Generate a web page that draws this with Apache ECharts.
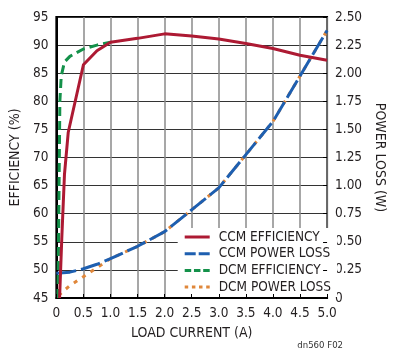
<!DOCTYPE html>
<html><head><meta charset="utf-8">
<script src="https://cdn.jsdelivr.net/npm/echarts@6/dist/echarts.min.js"></script>
<style>html,body{margin:0;padding:0;background:#fff}#c{width:395px;height:352px}</style>
</head><body><div id="c"></div>
<script>
// ---- data ----
const xTickLabels = ['0','0.5','1.0','1.5','2.0','2.5','3.0','3.5','4.0','4.5','5.0'];
const rightTickLabels = ['0','0.25','0.50','0.75','1.00','1.25','1.50','1.75','2.00','2.25','2.50'];
const seriesNames = ['CCM EFFICIENCY','CCM POWER LOSS','DCM EFFICIENCY','DCM POWER LOSS'];

const ccmEffX = [0.06,0.1,0.15,0.22,0.5,0.75,1.0,1.5,2.0,2.5,3.0,3.5,4.0,4.5,5.0];
const ccmEff  = [45,55.5,67,74.5,86.5,89,90.5,91.2,92,91.6,91.1,90.3,89.4,88.2,87.3];

const dcmEffX = [0.03,0.05,0.065,0.09,0.15,0.25,0.5,0.75,1.0];
const dcmEff  = [45,65,80,84.5,87,88,89.3,90,90.5];

const ccmLossX = [0,0.25,0.5,0.75,1.0,1.5,2.0,3.0,4.0,5.0];
const ccmLoss  = [0.22,0.23,0.26,0.3,0.35,0.46,0.59,0.98,1.57,2.38];

const dcmLossX = [0.04,0.15,0.25,0.5,0.75,1.0,1.5,2.0,3.0,4.0,5.0];
const dcmLoss  = [0.02,0.07,0.11,0.19,0.27,0.35,0.46,0.59,0.98,1.57,2.38];

const pairs = (xs, ys) => xs.map((x, i) => [x, ys[i]]);

const FONT = "'DejaVu Sans Condensed',sans-serif";
const TXT = '#231f20';
const RED = '#ad1a33', BLUE = '#1e5fb0', GREEN = '#14914a', ORANGE = '#e0873a';

// legend sample glyphs (25 x 3 boxes)
const ICONS = [
  'path://M0,0H25V3H0Z',
  'path://M0,0H11V3H0Z M14,0H25V3H14Z',
  'path://M0,0H6.5V3H0Z M9.25,0H15.75V3H9.25Z M18.5,0H25V3H18.5Z',
  'path://M0,0H3.5V3H0Z M7.2,0H10.7V3H7.2Z M14.3,0H17.8V3H14.3Z M21.5,0H25V3H21.5Z'
];

const tickOnly = {
  axisLine: {show: false}, axisLabel: {show: false}, splitLine: {show: false},
  axisTick: {show: true, inside: true, length: 4, lineStyle: {color: '#000', width: 1}}, z: 10
};

const chart = echarts.init(document.getElementById('c'), null, {renderer: 'canvas'});
chart.setOption({
  animation: false,
  backgroundColor: '#fff',
  grid: {left: 55, right: 58, top: 17, bottom: 54, show: true, borderColor: '#000', borderWidth: 2, backgroundColor: 'transparent'},
  legend: {
    right: 58, top: 228, orient: 'vertical',
    backgroundColor: '#fff', padding: [2, 6, 3, 7],
    itemWidth: 25, itemHeight: 3, itemGap: 2.7,
    textStyle: {fontFamily: FONT, fontSize: 13.5, lineHeight: 14, color: TXT, padding: [0,0,0,4]},
    data: seriesNames.map((n, i) => ({name: n, icon: ICONS[i]}))
  },
  xAxis: [{
    type: 'value', min: 0, max: 5, interval: 0.5,
    name: 'LOAD CURRENT (A)', nameLocation: 'middle', nameGap: 28,
    nameTextStyle: {fontFamily: FONT, fontSize: 14, color: TXT},
    axisLine: {show: true, lineStyle: {color: '#000', width: 2}},
    axisTick: {show: false},
    axisLabel: {fontFamily: FONT, fontSize: 13.5, color: TXT, margin: 8,
      formatter: (v) => xTickLabels[Math.round(v / 0.5)]},
    splitLine: {show: true, lineStyle: {color: '#8a8a8a', width: 1.5}}
  }, Object.assign({type: 'value', min: 0, max: 5, interval: 0.5, position: 'bottom'}, tickOnly)],
  yAxis: [{
    type: 'value', min: 45, max: 95, interval: 5,
    name: 'EFFICIENCY (%)', nameLocation: 'middle', nameGap: 29,
    nameTextStyle: {fontFamily: FONT, fontSize: 14, color: TXT},
    axisLine: {show: true, lineStyle: {color: '#000', width: 2}},
    axisTick: {show: false},
    axisLabel: {fontFamily: FONT, fontSize: 13.5, color: TXT, margin: 8},
    splitLine: {show: true, lineStyle: {color: '#333', width: 1.2}}
  }, {
    type: 'value', min: 0, max: 2.5, interval: 0.25, position: 'right',
    name: 'POWER LOSS (W)', nameLocation: 'middle', nameGap: 36, nameRotate: -90,
    nameTextStyle: {fontFamily: FONT, fontSize: 14, color: TXT},
    axisLine: {show: true, lineStyle: {color: '#000', width: 2}},
    axisTick: {show: false},
    axisLabel: {fontFamily: FONT, fontSize: 13.5, color: TXT, margin: 8,
      formatter: (v) => rightTickLabels[Math.round(v / 0.25)]},
    splitLine: {show: false}
  }, Object.assign({type: 'value', min: 0, max: 2.5, interval: 0.25, position: 'right'}, tickOnly)],
  series: [
    {name: seriesNames[3], type: 'line', yAxisIndex: 1, data: pairs(dcmLossX, dcmLoss), symbol: 'none', z: 2,
      lineStyle: {color: ORANGE, width: 3, type: [4, 6]}, itemStyle: {color: ORANGE}},
    {name: seriesNames[1], type: 'line', yAxisIndex: 1, data: pairs(ccmLossX, ccmLoss), symbol: 'none', z: 3,
      lineStyle: {color: BLUE, width: 3, type: [20, 5]}, itemStyle: {color: BLUE}},
    {name: seriesNames[2], type: 'line', yAxisIndex: 0, data: pairs(dcmEffX, dcmEff), symbol: 'none', z: 4,
      lineStyle: {color: GREEN, width: 3, type: [9, 5]}, itemStyle: {color: GREEN}},
    {name: seriesNames[0], type: 'line', yAxisIndex: 0, data: pairs(ccmEffX, ccmEff), symbol: 'none', z: 5,
      lineStyle: {color: RED, width: 3}, itemStyle: {color: RED}}
  ],
  graphic: [{
    type: 'text', right: 52, bottom: 1,
    style: {text: 'dn560 F02', fontFamily: FONT, fontSize: 9.5, fill: '#333'}
  }]
});
</script></body></html>
